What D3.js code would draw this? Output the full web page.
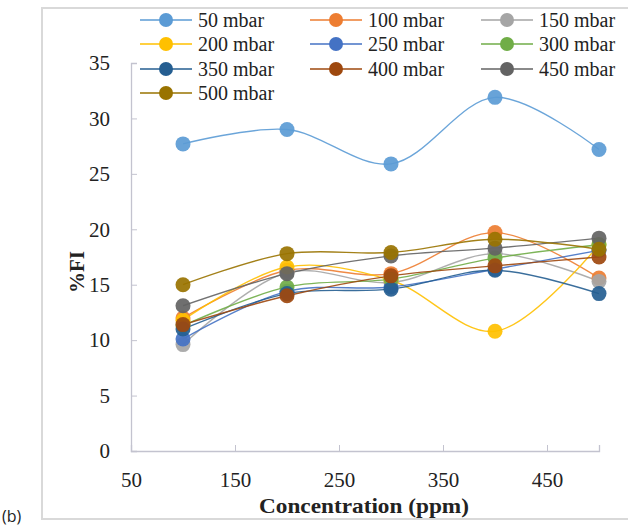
<!DOCTYPE html>
<html><head><meta charset="utf-8">
<script src="https://cdn.jsdelivr.net/npm/d3@7"></script>
<style>body{margin:0;background:#fff}svg{display:block}</style>
</head><body>
<script>
const xValues = [100, 200, 300, 400, 500];
const seriesNames = ["50 mbar","100 mbar","150 mbar","200 mbar","250 mbar","300 mbar","350 mbar","400 mbar","450 mbar","500 mbar"];
const s50  = [27.7, 29.0, 25.9, 31.9, 27.2];
const s100 = [12.0, 16.3, 16.0, 19.7, 15.6];
const s150 = [9.6, 16.1, 15.2, 17.8, 15.3];
const s200 = [11.8, 16.6, 15.4, 10.8, 18.6];
const s250 = [10.1, 14.4, 14.8, 16.4, 18.1];
const s300 = [11.3, 14.8, 15.5, 17.4, 18.6];
const s350 = [11.0, 14.2, 14.6, 16.3, 14.2];
const s400 = [11.4, 14.0, 15.8, 16.7, 17.5];
const s450 = [13.1, 16.0, 17.6, 18.3, 19.2];
const s500 = [15.0, 17.8, 17.9, 19.1, 18.2];
const seriesValues = [s50, s100, s150, s200, s250, s300, s350, s400, s450, s500];
const colors = ["#5B9BD5","#ED7D31","#A5A5A5","#FFC000","#4472C4","#70AD47","#255E91","#9E480E","#636363","#997300"];
const xTicks = [50, 150, 250, 350, 450];
const yTicks = [0, 5, 10, 15, 20, 25, 30, 35];

const W = 628, H = 527;
const SERIF = '"Liberation Serif"';
const svg = d3.select("body").append("svg").attr("width", W).attr("height", H);

// frame
svg.append("rect").attr("x", 42).attr("y", 8).attr("width", 600).attr("height", 511)
  .attr("fill", "none").attr("stroke", "#d9d9d9").attr("stroke-width", 2);

const x = d3.scaleLinear().domain([50, 500]).range([131, 599]);
const y = d3.scaleLinear().domain([0, 35]).range([451, 63]);
const axisColor = "#c3c3cf";

// x axis
const xAxis = svg.append("g").attr("transform", "translate(0,451)")
  .call(d3.axisBottom(x).tickValues(xTicks).tickSize(-6).tickPadding(21).tickFormat(d3.format("d")));
xAxis.select(".domain").attr("stroke", axisColor).attr("stroke-width", 1.3);
xAxis.selectAll(".tick line").attr("stroke", axisColor);
xAxis.selectAll(".tick text").style("font-family", SERIF).style("font-size", "21px").attr("fill", "#222");

// y axis
const yAxis = svg.append("g").attr("transform", "translate(131,0)")
  .call(d3.axisLeft(y).tickValues(yTicks).tickSize(-6).tickPadding(21));
yAxis.select(".domain").attr("stroke", axisColor).attr("stroke-width", 1.3);
yAxis.selectAll(".tick line").attr("stroke", axisColor);
yAxis.selectAll(".tick text").style("font-family", SERIF).style("font-size", "21px").attr("fill", "#222");

// axis titles
svg.append("text").attr("x", 364).attr("y", 513).attr("text-anchor", "middle")
  .attr("textLength", 210).attr("lengthAdjust", "spacingAndGlyphs")
  .style("font-family", SERIF).style("font-size", "21px").style("font-weight", "bold").attr("fill", "#222")
  .text("Concentration (ppm)");
svg.append("text").attr("transform", "translate(84,272) rotate(-90)").attr("text-anchor", "middle")
  .style("font-family", SERIF).style("font-size", "21px").style("font-weight", "bold").attr("fill", "#222")
  .text("%FI");
svg.append("text").attr("x", 2).attr("y", 522).style("font-family", '"Open Sans"')
  .style("font-size", "16px").attr("fill", "#222").text("(b)");

// lines
const line = d3.line().x((d, i) => x(xValues[i])).y(d => y(d)).curve(d3.curveCatmullRom.alpha(0.5));
const g = svg.append("g");
seriesValues.forEach((vals, k) => {
  g.append("path").attr("d", line(vals)).attr("fill", "none")
    .attr("stroke", colors[k]).attr("stroke-width", 1.4).attr("opacity", 0.9);
});
seriesValues.forEach((vals, k) => {
  g.selectAll(null).data(vals).enter().append("circle")
    .attr("cx", (d, i) => x(xValues[i])).attr("cy", d => y(d)).attr("r", 7.5)
    .attr("fill", colors[k]).attr("opacity", 0.92);
});

// legend
const legCols = [140, 310, 481];
const legRows = [20, 44, 69, 93];
const lg = svg.append("g");
seriesNames.forEach((name, k) => {
  const cx = legCols[k % 3], cy = legRows[Math.floor(k / 3)];
  lg.append("line").attr("x1", cx).attr("x2", cx + 52).attr("y1", cy).attr("y2", cy)
    .attr("stroke", colors[k]).attr("stroke-width", 1.4);
  lg.append("circle").attr("cx", cx + 26).attr("cy", cy).attr("r", 7).attr("fill", colors[k]);
  lg.append("text").attr("x", cx + 58).attr("y", cy + 7)
    .style("font-family", SERIF).style("font-size", "20px").attr("fill", "#222").text(name);
});
</script>
</body></html>
